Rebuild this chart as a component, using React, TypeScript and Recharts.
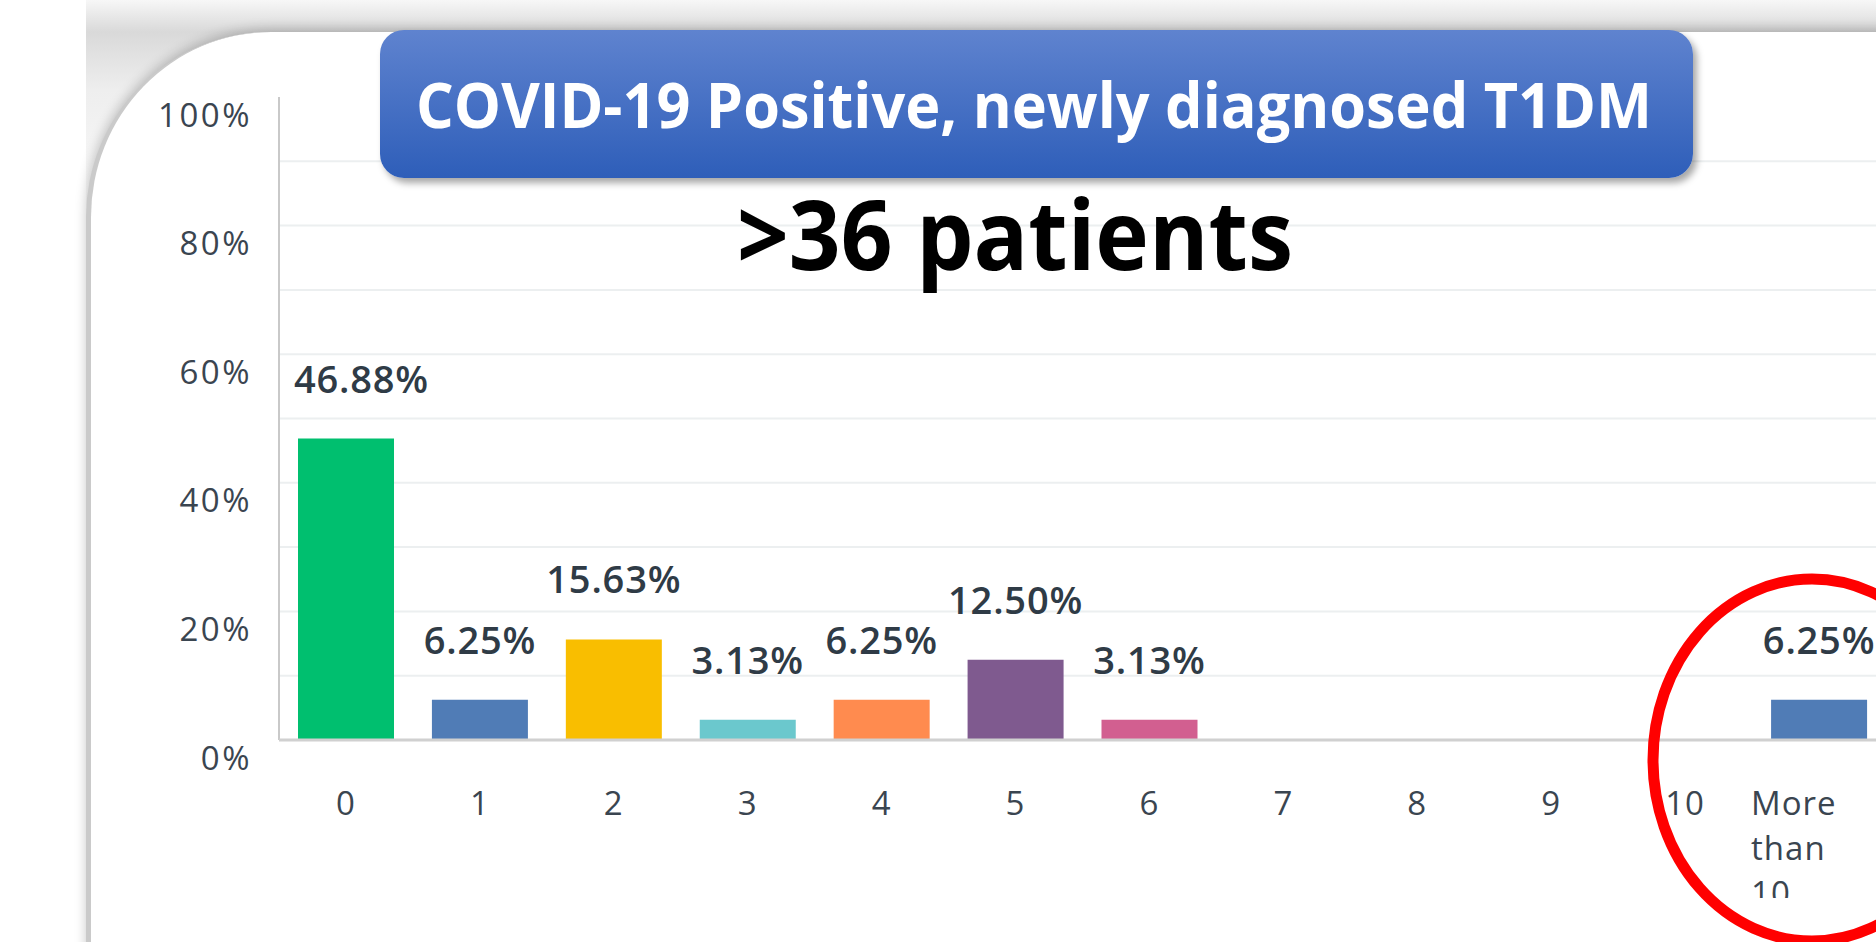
import React from 'react'
import { Bar, BarChart, CartesianGrid, Cell, LabelList, XAxis, YAxis } from 'recharts'

const categories = ['0', '1', '2', '3', '4', '5', '6', '7', '8', '9', '10', 'More than 10']
const shares = [46.88, 6.25, 15.63, 3.13, 6.25, 12.5, 3.13, 0, 0, 0, 0, 6.25]
const barColors = [
  '#00bf6f', '#507cb6', '#f9be00', '#6bc8cd', '#ff8b4f', '#7f5a8f',
  '#d25f90', '#dba0d1', '#a0a0a0', '#507cb6', '#00bf6f', '#507cb6',
]
const yTicks = [0, 20, 40, 60, 80, 100]
const gridValues = [10, 20, 30, 40, 50, 60, 70, 80, 90]
const title = 'COVID-19 Positive, newly diagnosed T1DM'
const subtitle = '>36 patients'

const data = categories.map((name, i) => ({ name, value: shares[i] }))

// layout
const W = 1876
const H = 942
const CHART_W = 1886
const MARGIN = { top: 97, right: 0, bottom: 42, left: 199 }
const Y_AXIS_W = 80
const X_AXIS_H = 160
const PLOT_LEFT = MARGIN.left + Y_AXIS_W
const BAND = (CHART_W - PLOT_LEFT - MARGIN.right) / categories.length
const FONT = '"Open Sans", sans-serif'
const TICK_COLOR = '#3a4550'
const LABEL_COLOR = '#2f3b46'

const YTick = (props: any) => {
  const { x, y, payload } = props
  return (
    <text x={x} y={y + 17} textAnchor='end' dominantBaseline='central'
      fontFamily={FONT} fontSize={33} fill={TICK_COLOR} letterSpacing={2.5}>
      {payload.value}%
    </text>
  )
}

const XTick = (props: any) => {
  const { x, y, payload } = props
  const words = String(payload.value).split(' ')
  if (words.length > 1) {
    const left = x - BAND / 2 - 1
    return (
      <g>
        <defs>
          <clipPath id='moreClip'>
            <rect x={left - 5} y={y} width={BAND + 20} height={158} />
          </clipPath>
        </defs>
        <text x={left} y={y + 62} textAnchor='start' dominantBaseline='central'
          fontFamily={FONT} fontSize={33} fill={TICK_COLOR} letterSpacing={1}
          clipPath='url(#moreClip)'>
          {words.map((w, i) => (
            <tspan key={i} x={left} dy={i === 0 ? 0 : 45}>{w}</tspan>
          ))}
        </text>
      </g>
    )
  }
  return (
    <text x={x} y={y + 62} textAnchor='middle' dominantBaseline='central'
      fontFamily={FONT} fontSize={33} fill={TICK_COLOR} letterSpacing={1}>
      {payload.value}
    </text>
  )
}

const ValueLabel = (props: any) => {
  const { x, y, width, value } = props
  if (!value) return null
  const text = Number(value).toFixed(2) + '%'
  const est = text.length * 23.5
  let cx = x + width / 2
  if (cx - est / 2 < PLOT_LEFT + 12) cx = PLOT_LEFT + 12 + est / 2
  return (
    <text x={cx} y={y - 61} textAnchor='middle' dominantBaseline='central'
      fontFamily={FONT} fontSize={38} fontWeight={600} fill={LABEL_COLOR} letterSpacing={0.8}>
      {text}
    </text>
  )
}

const App = () => {
  return (
    <div style={{ position: 'fixed', left: 0, top: 0, width: W, height: H, overflow: 'hidden', background: '#fff' }}>
      <div style={{
        position: 'absolute', left: 86, top: 0, width: W, height: 260,
        background: 'linear-gradient(to bottom, #f7f7f7 0px, #d9d9d9 32px, #eeeeee 90px, #ffffff 260px)',
      }} />
      <div style={{
        position: 'absolute', left: 86, top: 32, width: W, height: 1000,
        background: '#fff', borderTopLeftRadius: 185, borderLeft: '5px solid #cacaca',
        boxShadow: '0 -3px 12px rgba(0,0,0,0.22)',
      }} />
      <div style={{ position: 'absolute', left: 0, top: 0 }}>
        <BarChart width={CHART_W} height={H} data={data} margin={MARGIN}>
          <CartesianGrid vertical={false} horizontalValues={gridValues} stroke='#eceff0' strokeWidth={2} />
          <YAxis
            domain={[0, 100]}
            ticks={yTicks}
            width={Y_AXIS_W}
            tickLine={false}
            tickSize={0}
            tickMargin={27}
            axisLine={{ stroke: '#c9c9c9', strokeWidth: 2 }}
            tick={<YTick />}
          />
          <XAxis
            dataKey='name'
            interval={0}
            height={X_AXIS_H}
            tickLine={false}
            tickSize={0}
            tickMargin={0}
            axisLine={{ stroke: '#d0d0d0', strokeWidth: 3 }}
            tick={<XTick />}
          />
          <Bar dataKey='value' barSize={96} isAnimationActive={false}>
            {data.map((d, i) => (
              <Cell key={d.name} fill={barColors[i]} />
            ))}
            <LabelList dataKey='value' content={<ValueLabel />} />
          </Bar>
        </BarChart>
      </div>
      <div style={{
        position: 'absolute', left: 380, top: 30, width: 1313, height: 148, borderRadius: 24,
        background: 'linear-gradient(to bottom, #5f83cf, #2e5eb9)',
        boxShadow: '4px 5px 7px rgba(0,0,0,0.35)',
      }} />
      <svg width={W} height={H} style={{ position: 'absolute', left: 0, top: 0 }}>
        <text x={416} y={128} textLength={1236} lengthAdjust='spacingAndGlyphs'
          fontFamily={FONT} fontSize={62} fontWeight={700} fill='#ffffff'>
          {title}
        </text>
        <text x={737} y={270} textLength={556} lengthAdjust='spacingAndGlyphs'
          fontFamily={FONT} fontSize={96} fontWeight={700} fill='#000000'>
          {subtitle}
        </text>
        <ellipse cx={1812} cy={760} rx={159} ry={181} fill='none' stroke='#ff0000' strokeWidth={11} />
      </svg>
    </div>
  )
}

export default App
